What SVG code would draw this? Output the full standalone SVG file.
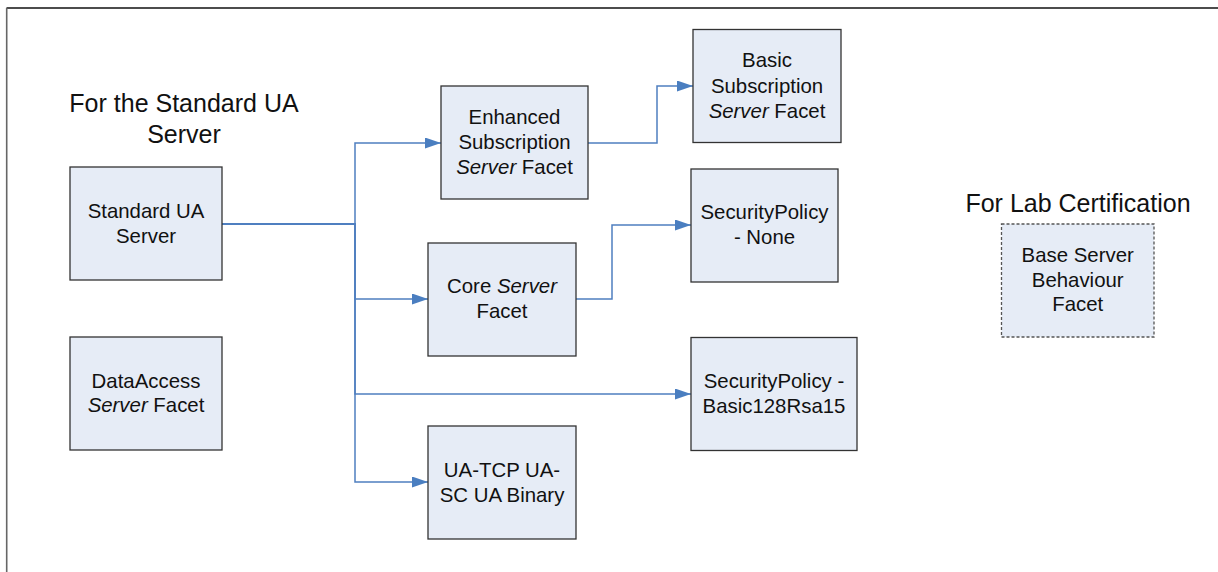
<svg xmlns="http://www.w3.org/2000/svg" width="1218" height="572" viewBox="0 0 1218 572">
<style>
text{font-family:"Liberation Sans",Arial,sans-serif;fill:#111;text-anchor:middle}
.lbl{font-size:20.4px}
.hd{font-size:25px}
.it{font-style:italic}
.box{fill:#E6ECF6;stroke:#333;stroke-width:1.3}
.dash{fill:#E6ECF6;stroke:#555;stroke-width:1.3;stroke-dasharray:3 2}
.con{fill:none;stroke:#4F7FC0;stroke-width:1.5;marker-end:url(#ah)}
</style>
<defs>
<marker id="ah" viewBox="0 0 16 11" refX="16" refY="5.5" markerWidth="16" markerHeight="11" markerUnits="userSpaceOnUse" orient="auto">
<path d="M0,0 L16,5.5 L0,11 z" fill="#4A7EC0"/>
</marker>
</defs>
<rect width="1218" height="572" fill="#fff"/>
<g id="frame">
<line x1="6.5" y1="8" x2="1218" y2="8" stroke="#111" stroke-width="1.6"/>
<line x1="6.7" y1="8" x2="6.7" y2="572" stroke="#666" stroke-width="1.6"/>
</g>
<g id="headings">
<text class="hd" x="184" y="111.7">For the Standard UA</text>
<text class="hd" x="184" y="142.7">Server</text>
<text class="hd" x="1078" y="212.3">For Lab Certification</text>
</g>
<g id="connectors">
<path class="con" d="M222,224 H355 V143 H441"/>
<path class="con" d="M222,224 H355 V299 H428"/>
<path class="con" d="M222,224 H355 V394 H691"/>
<path class="con" d="M222,224 H355 V482 H428"/>
<path class="con" d="M588,143 H657 V86 H693"/>
<path class="con" d="M576,299 H612 V225 H691"/>
</g>
<g id="standard-ua-server">
<rect class="box" x="70" y="167" width="152" height="113"/>
<text class="lbl" x="146" y="218">Standard UA</text>
<text class="lbl" x="146" y="243">Server</text>
</g>
<g id="dataaccess">
<rect class="box" x="70" y="337" width="152" height="113"/>
<text class="lbl" x="146" y="387.7">DataAccess</text>
<text class="lbl" x="146" y="412.3"><tspan class="it">Server</tspan> Facet</text>
</g>
<g id="enhanced-subscription">
<rect class="box" x="441" y="86" width="147" height="113"/>
<text class="lbl" x="514.5" y="124.3">Enhanced</text>
<text class="lbl" x="514.5" y="149.3">Subscription</text>
<text class="lbl" x="514.5" y="174"><tspan class="it">Server</tspan> Facet</text>
</g>
<g id="basic-subscription">
<rect class="box" x="693" y="29.5" width="148" height="113"/>
<text class="lbl" x="767" y="67.3">Basic</text>
<text class="lbl" x="767" y="92.7">Subscription</text>
<text class="lbl" x="767" y="117.7"><tspan class="it">Server</tspan> Facet</text>
</g>
<g id="core-server">
<rect class="box" x="428" y="243" width="148" height="113"/>
<text class="lbl" x="502" y="293.3">Core <tspan class="it">Server</tspan></text>
<text class="lbl" x="502" y="317.7">Facet</text>
</g>
<g id="securitypolicy-none">
<rect class="box" x="691" y="169" width="147" height="113"/>
<text class="lbl" x="764.5" y="219.3">SecurityPolicy</text>
<text class="lbl" x="764.5" y="244">- None</text>
</g>
<g id="securitypolicy-basic128">
<rect class="box" x="691" y="337.5" width="166" height="113"/>
<text class="lbl" x="774" y="388.3">SecurityPolicy -</text>
<text class="lbl" x="774" y="413.3">Basic128Rsa15</text>
</g>
<g id="ua-tcp">
<rect class="box" x="428" y="426" width="148" height="113"/>
<text class="lbl" x="502" y="476.7">UA-TCP UA-</text>
<text class="lbl" x="502" y="501.7">SC UA Binary</text>
</g>
<g id="base-server-behaviour">
<rect class="dash" x="1001.5" y="224" width="152.5" height="113"/>
<text class="lbl" x="1077.7" y="261.7">Base Server</text>
<text class="lbl" x="1077.7" y="286.7">Behaviour</text>
<text class="lbl" x="1077.7" y="311">Facet</text>
</g>
</svg>
